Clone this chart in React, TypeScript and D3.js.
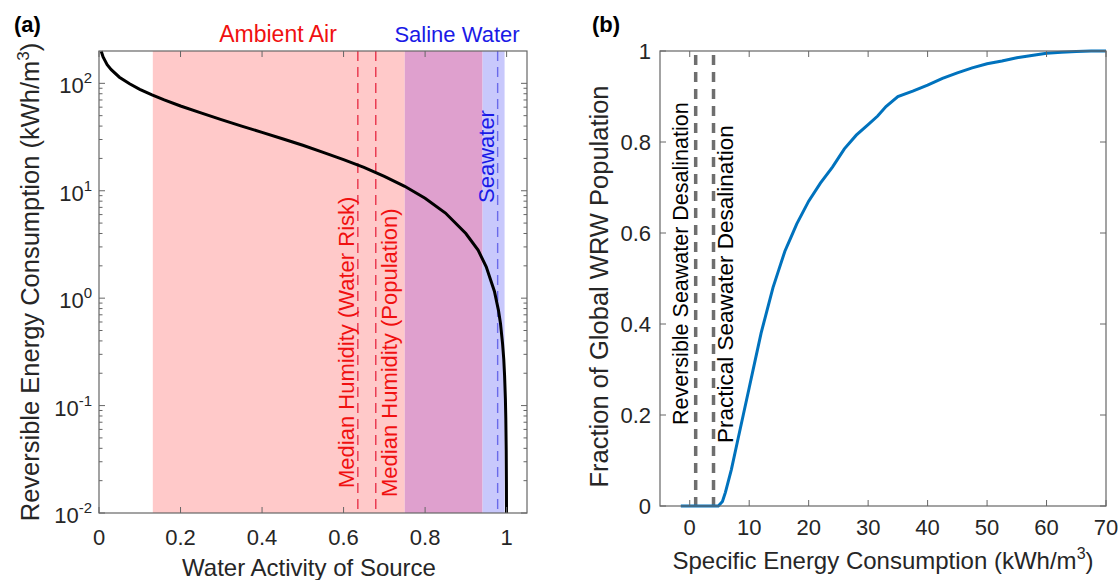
import React from 'react';
import * as d3 from 'd3';

// panel (a): reversible energy vs water activity
const waterActivity = [0.0055, 0.01, 0.02, 0.03, 0.05, 0.075, 0.1, 0.13, 0.16, 0.2, 0.25, 0.3, 0.35, 0.4, 0.45, 0.5, 0.55, 0.6, 0.65, 0.7, 0.75, 0.8, 0.85, 0.9, 0.93, 0.95, 0.97, 0.98, 0.985, 0.99, 0.993, 0.995, 0.997, 0.998, 0.999, 0.9995, 0.9997, 0.99974];
const reversibleEnergy = [199, 176, 149, 134, 114, 99, 88, 78, 70, 61.5, 53, 46, 40, 35, 30.5, 26.5, 22.8, 19.5, 16.5, 13.6, 11, 8.5, 6.2, 4.0, 2.8, 1.96, 1.16, 0.77, 0.58, 0.38, 0.27, 0.19, 0.115, 0.076, 0.038, 0.019, 0.0115, 0.01];

// shaded ranges: ambient air only, overlap, saline water only
const bandStart = [0.132, 0.75, 0.941];
const bandEnd = [0.75, 0.941, 0.995];
const humidityLines = [0.635, 0.679];
const humidityLabels = ['Median Humidity (Water Risk)', 'Median Humidity (Population)'];
const seawaterActivity = 0.978;
const xTicksA = [0, 0.2, 0.4, 0.6, 0.8, 1];
const yTicksA = [-2, -1, 0, 1, 2];

// panel (b): cumulative fraction of WRW population vs SEC
const sec = [-1.5, 0, 2, 4, 4.8, 5.5, 6, 7, 8, 9, 10, 11, 12, 13, 14, 15, 16, 17, 18, 20, 22, 24, 26, 28, 30, 31.6, 33, 35, 37.5, 40, 42.5, 45, 47.5, 50, 52.5, 55, 57.5, 60, 62.5, 65, 67.5, 70];
const popFraction = [0, 0, 0, 0, 0, 0.01, 0.03, 0.08, 0.14, 0.2, 0.26, 0.32, 0.38, 0.43, 0.48, 0.52, 0.56, 0.59, 0.62, 0.67, 0.71, 0.745, 0.785, 0.815, 0.838, 0.857, 0.878, 0.9, 0.912, 0.925, 0.94, 0.952, 0.963, 0.972, 0.978, 0.985, 0.99, 0.995, 0.997, 0.999, 1, 1];
const desalLines = [1.0, 4.0];
const desalLabels = ['Reversible Seawater Desalination', 'Practical Seawater Desalination'];
const xTicksB = [0, 10, 20, 30, 40, 50, 60, 70];
const yTicksB = [0, 0.2, 0.4, 0.6, 0.8, 1];

const FONT = '"Liberation Sans", Arial, Helvetica, sans-serif';
const AXIS = '#666';
const bandColors = ['#FFC9C9', '#DFA0CE', '#C8C8FC'];

export default function App() {
  const xA = d3.scaleLinear().domain([0, 1.05]).range([99, 527]);
  const yA = d3.scaleLog().domain([0.01, 200]).range([513, 51]);
  const xB = d3.scaleLinear().domain([-5, 70]).range([660, 1106]);
  const yB = d3.scaleLinear().domain([0, 1]).range([506, 51]);

  const lineA = d3.line<number>()
    .x((d) => xA(d))
    .y((d, i) => yA(reversibleEnergy[i]));
  const lineB = d3.line<number>()
    .x((d) => xB(d))
    .y((d, i) => yB(popFraction[i]));

  const [a0, a1] = xA.range();
  const [aB, aT] = yA.range();
  const [b0, b1] = xB.range();
  const [bB, bT] = yB.range();

  // log minor ticks
  const minorA: number[] = [];
  for (let e = -2; e <= 2; e++) {
    for (let m = 2; m <= 9; m++) {
      const v = m * Math.pow(10, e);
      if (v < 200) minorA.push(v);
    }
  }

  return (
    <svg width={1119} height={580} style={{ position: 'absolute', left: 0, top: 0, background: '#fff' }} fontFamily={FONT}>
      {/* ---------- panel (a) ---------- */}
      {bandStart.map((s, i) => (
        <rect key={'band' + i} x={xA(s)} y={aT} width={xA(bandEnd[i]) - xA(s)} height={aB - aT} fill={bandColors[i]} />
      ))}
      {humidityLines.map((h, i) => (
        <line key={'hl' + i} x1={xA(h)} x2={xA(h)} y1={aT} y2={aB} stroke="#E8334A" strokeWidth={1.4} strokeDasharray="10,6" />
      ))}
      <line x1={xA(seawaterActivity)} x2={xA(seawaterActivity)} y1={aT} y2={aB} stroke="#6A6AEA" strokeWidth={1.4} strokeDasharray="10,6" />
      <path d={lineA(waterActivity) || ''} fill="none" stroke="#000" strokeWidth={3} />

      {/* axes box a */}
      <rect x={a0} y={aT} width={a1 - a0} height={aB - aT} fill="none" stroke={AXIS} strokeWidth={1.2} />
      {xTicksA.map((t) => (
        <g key={'xa' + t}>
          <line x1={xA(t)} x2={xA(t)} y1={aB} y2={aB - 6} stroke={AXIS} />
          <line x1={xA(t)} x2={xA(t)} y1={aT} y2={aT + 6} stroke={AXIS} />
          <text x={xA(t)} y={545} textAnchor="middle" fontSize={22} fill="#262626">{String(t)}</text>
        </g>
      ))}
      {yTicksA.map((e) => {
        const y = yA(Math.pow(10, e));
        return (
          <g key={'ya' + e}>
            <line x1={a0} x2={a0 + 6} y1={y} y2={y} stroke={AXIS} />
            <line x1={a1} x2={a1 - 6} y1={y} y2={y} stroke={AXIS} />
            <text x={92} y={y + 10} textAnchor="end" fontSize={22} fill="#262626">
              10<tspan dy={-10} fontSize={15}>{String(e)}</tspan>
            </text>
          </g>
        );
      })}
      {minorA.map((v) => (
        <g key={'ma' + v}>
          <line x1={a0} x2={a0 + 3.5} y1={yA(v)} y2={yA(v)} stroke={AXIS} />
          <line x1={a1} x2={a1 - 3.5} y1={yA(v)} y2={yA(v)} stroke={AXIS} />
        </g>
      ))}

      {/* annotations a */}
      <text x={14} y={32} fontSize={22} fontWeight="bold" fill="#000">(a)</text>
      <text x={278} y={42} textAnchor="middle" fontSize={23} fill="#F01010">Ambient Air</text>
      <text x={457} y={42} textAnchor="middle" fontSize={22} fill="#1A1AE6">Saline Water</text>
      <text transform={`translate(${xA(humidityLines[0]) - 4},488) rotate(-90)`} fontSize={22} fill="#F01010">{humidityLabels[0]}</text>
      <text transform={`translate(${xA(humidityLines[1]) + 21},497) rotate(-90)`} fontSize={22} fill="#F01010">{humidityLabels[1]}</text>
      <text transform={`translate(${xA(seawaterActivity) - 4},203) rotate(-90)`} fontSize={22} fill="#1A1AE6">Seawater</text>

      <text x={(a0 + a1) / 2 - 4} y={576} textAnchor="middle" fontSize={24} fill="#262626">Water Activity of Source</text>
      <text transform={`translate(39,${(aT + aB) / 2}) rotate(-90)`} textAnchor="middle" fontSize={25.5} fill="#262626">
        Reversible Energy Consumption (kWh/m<tspan dy={-10} fontSize={17}>3</tspan><tspan dy={10}>)</tspan>
      </text>

      {/* ---------- panel (b) ---------- */}
      {desalLines.map((d, i) => (
        <line key={'dl' + i} x1={xB(d)} x2={xB(d)} y1={bT + 4} y2={bB} stroke="#6E6E6E" strokeWidth={3.5} strokeDasharray="10,7" />
      ))}
      <path d={lineB(sec) || ''} fill="none" stroke="#0072BD" strokeWidth={3} />

      <rect x={b0} y={bT} width={b1 - b0} height={bB - bT} fill="none" stroke={AXIS} strokeWidth={1.2} />
      {xTicksB.map((t) => (
        <g key={'xb' + t}>
          <line x1={xB(t)} x2={xB(t)} y1={bB} y2={bB - 6} stroke={AXIS} />
          <line x1={xB(t)} x2={xB(t)} y1={bT} y2={bT + 6} stroke={AXIS} />
          <text x={xB(t)} y={535} textAnchor="middle" fontSize={22} fill="#262626">{t}</text>
        </g>
      ))}
      {yTicksB.map((t) => (
        <g key={'yb' + t}>
          <line x1={b0} x2={b0 + 6} y1={yB(t)} y2={yB(t)} stroke={AXIS} />
          <line x1={b1} x2={b1 - 6} y1={yB(t)} y2={yB(t)} stroke={AXIS} />
          <text x={651} y={yB(t) + 8} textAnchor="end" fontSize={22} fill="#262626">{String(t)}</text>
        </g>
      ))}

      <text x={592} y={32} fontSize={22} fontWeight="bold" fill="#000">(b)</text>
      <text transform={`translate(${xB(desalLines[0]) - 8},425) rotate(-90)`} fontSize={21.5} fill="#000">{desalLabels[0]}</text>
      <text transform={`translate(${xB(desalLines[1]) + 19},443) rotate(-90)`} fontSize={22.5} fill="#000">{desalLabels[1]}</text>

      <text x={(b0 + b1) / 2} y={569} textAnchor="middle" fontSize={24} fill="#262626">
        Specific Energy Consumption (kWh/m<tspan dy={-10} fontSize={16}>3</tspan><tspan dy={10}>)</tspan>
      </text>
      <text transform={`translate(608,${(bT + bB) / 2 + 8}) rotate(-90)`} textAnchor="middle" fontSize={25.5} fill="#262626">Fraction of Global WRW Population</text>
    </svg>
  );
}
